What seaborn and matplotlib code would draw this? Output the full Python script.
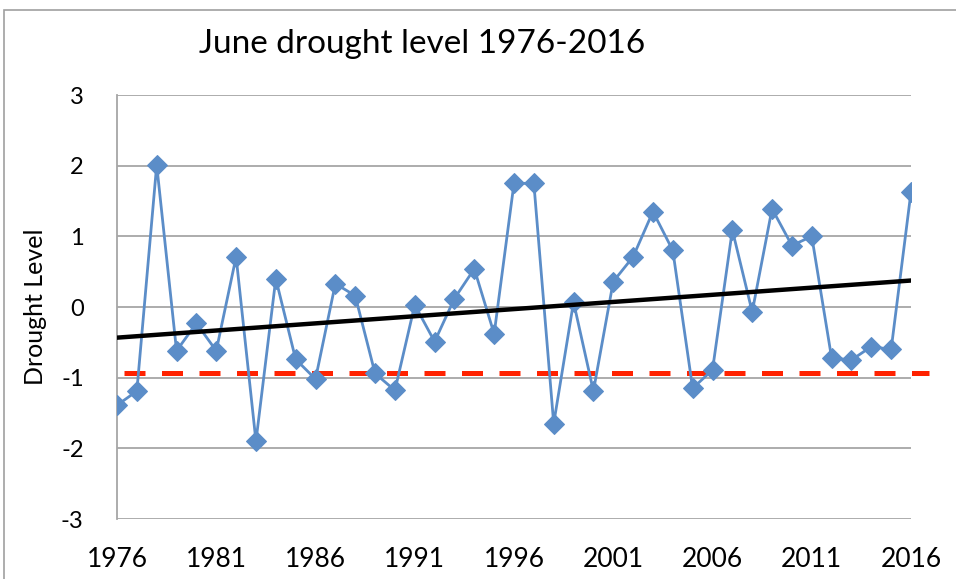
import numpy as np
import pandas as pd
import matplotlib
matplotlib.use("Agg")
import matplotlib.pyplot as plt
import seaborn as sns
from matplotlib.patches import Rectangle

years = list(range(1976, 2017))
drought = [-1.39, -1.19, 2.01, -0.62, -0.23, -0.62, 0.71, -1.90, 0.40, -0.74,
           -1.02, 0.33, 0.16, -0.94, -1.18, 0.03, -0.49, 0.12, 0.54, -0.38,
           1.75, 1.75, -1.65, 0.07, -1.19, 0.36, 0.71, 1.35, 0.80, -1.15,
           -0.89, 1.09, -0.07, 1.39, 0.87, 1.00, -0.72, -0.75, -0.56, -0.60,
           1.63]
threshold = -0.93
title = "June drought level 1976-2016"
ylabel = "Drought Level"
xticks = [1976, 1981, 1986, 1991, 1996, 2001, 2006, 2011, 2016]
yticks = [-3, -2, -1, 0, 1, 2, 3]

sns.set_style("white")
plt.rcParams['font.family'] = ['Lato', 'DejaVu Sans']
plt.rcParams['text.color'] = 'black'

df = pd.DataFrame({"year": years, "level": drought})

fig = plt.figure(figsize=(9.56, 5.79), dpi=100)
ax = fig.add_axes([117/956, 1 - 519/579, (911-117)/956, (519-95)/579])

# gridlines
for y in yticks:
    ax.axhline(y, color="#A6A6A6", lw=1.3, zorder=0)

sns.lineplot(data=df, x="year", y="level", ax=ax, color="#5B8DC8",
             marker="D", markersize=10.5, markeredgecolor="#5B8DC8",
             linewidth=2.0, zorder=3)

# trend line
coef = np.polyfit(years, drought, 1)
tx = np.array([years[0], years[-1]])
ax.plot(tx, np.polyval(coef, tx), color="black", lw=3.2, zorder=4)

# threshold dashed line
ax.plot([years[0] + 0.35, years[-1] + 0.9], [threshold, threshold],
        color="#FF2200", lw=3.6, dashes=(4.2, 3.3), zorder=2, clip_on=False)

ax.set_xlim(years[0], years[-1])
ax.set_ylim(-3, 3)
ax.set_xticks(xticks)
ax.set_yticks(yticks)
ax.set_xticklabels([str(t) for t in xticks], fontsize=19, color="black")
ax.set_yticklabels([str(t) for t in yticks], fontsize=17, color="black")
ax.tick_params(axis="x", length=0, pad=20)
ax.tick_params(axis="y", length=0, pad=24)
for s in ["top", "right", "bottom"]:
    ax.spines[s].set_visible(False)
ax.spines["left"].set_color("#A6A6A6")
ax.spines["left"].set_linewidth(1.3)
ax.set_xlabel("")
ax.set_ylabel(ylabel, fontsize=18, labelpad=10, color="black")

fig.text(422/956, 1 - 44/579, title, fontsize=24, ha="center", va="center",
         color="black")

fig.patches.append(Rectangle((4/956, -0.1), 1.2, 1 - 10/579 + 0.1,
                             transform=fig.transFigure, fill=False,
                             edgecolor="#A0A0A0", lw=1.2))

fig.savefig("out.png", dpi=100)
